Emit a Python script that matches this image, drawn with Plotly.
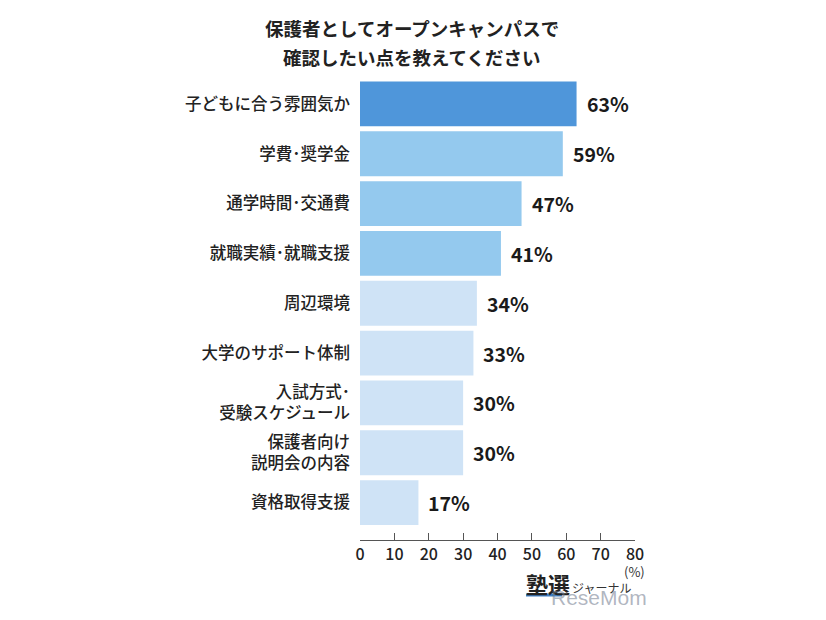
import plotly.graph_objects as go

categories = [
    "子どもに合う雰囲気か",
    "学費･奨学金",
    "通学時間･交通費",
    "就職実績･就職支援",
    "周辺環境",
    "大学のサポート体制",
    "入試方式･<br>受験スケジュール",
    "保護者向け<br>説明会の内容",
    "資格取得支援",
]
values = [63, 59, 47, 41, 34, 33, 30, 30, 17]
bar_colors = ["#4F96DA", "#94C9EE", "#94C9EE", "#94C9EE",
              "#CFE3F6", "#CFE3F6", "#CFE3F6", "#CFE3F6", "#CFE3F6"]
x_ticks = [0, 10, 20, 30, 40, 50, 60, 70, 80]
title_lines = ["保護者としてオープンキャンパスで", "確認したい点を教えてください"]

FONT = "Noto Sans CJK JP"
L, R, T, B = 360, 191, 78.5, 80
W, H = 826, 620
PW, PH = W - L - R, H - T - B


def px(x):
    return (x - L) / PW


def py(y):
    return (H - B - y) / PH


fig = go.Figure(go.Bar(
    x=values,
    y=categories,
    orientation="h",
    marker=dict(color=bar_colors, line=dict(width=0)),
    width=0.9,
    hoverinfo="skip",
))

for c, v in zip(categories, values):
    fig.add_annotation(
        x=v, y=c, xref="x", yref="y",
        text=f"<b>{v}%</b>", showarrow=False,
        xanchor="left", xshift=8,
        font=dict(family=FONT, size=19.5, color="#1a1a1a"),
    )

# title
for i, (line, yc) in enumerate(zip(title_lines, [27, 56])):
    fig.add_annotation(
        xref="paper", yref="paper", x=px(412), y=py(yc),
        text=f"<b>{line}</b>", showarrow=False,
        xanchor="center", yanchor="middle",
        font=dict(family=FONT, size=18.5, color="#222222"),
    )

# unit
fig.add_annotation(
    xref="paper", yref="paper", x=px(634), y=py(572), text="(%)", showarrow=False,
    xanchor="center", yanchor="middle",
    font=dict(family=FONT, size=13, color="#333333"),
)

# watermark logo
fig.add_shape(type="line", xref="paper", yref="paper",
              x0=px(526), x1=px(562), y0=py(595), y1=py(595),
              line=dict(color="#3F7FC4", width=3))
fig.add_annotation(
    xref="paper", yref="paper", x=px(524), y=py(583),
    text="<b>塾選</b>", showarrow=False, xanchor="left", yanchor="middle",
    font=dict(family=FONT, size=22, color="#222222"),
)
fig.add_annotation(
    xref="paper", yref="paper", x=px(570), y=py(588),
    text="ジャーナル", showarrow=False, xanchor="left", yanchor="middle",
    font=dict(family=FONT, size=12, color="#333333"),
)
fig.add_annotation(
    xref="paper", yref="paper", x=px(549), y=py(598),
    text="ReseMom", showarrow=False, xanchor="left", yanchor="middle",
    font=dict(family="Liberation Sans", size=21, color="rgba(110,120,140,0.55)"),
)

fig.update_layout(
    width=W, height=H,
    margin=dict(l=L, r=R, t=T, b=B),
    paper_bgcolor="white", plot_bgcolor="white",
    showlegend=False,
    xaxis=dict(
        range=[0, 80], tickvals=x_ticks, ticktext=[str(t) for t in x_ticks],
        showgrid=False, zeroline=False,
        showline=True, linecolor="#555555", linewidth=1,
        ticks="inside", ticklen=7, tickcolor="#555555", tickwidth=1,
        tickfont=dict(family=FONT, size=16, color="#222222", weight=500),
        fixedrange=True,
    ),
    yaxis=dict(
        categoryorder="array", categoryarray=categories,
        range=[8.75, -0.5],
        showgrid=False, zeroline=False, showline=False,
        ticks="", ticklabelstandoff=9,
        tickfont=dict(family=FONT, size=16.5, color="#222222", weight=500),
        fixedrange=True,
    ),
    font=dict(family=FONT),
)

fig.write_html("out.html")
